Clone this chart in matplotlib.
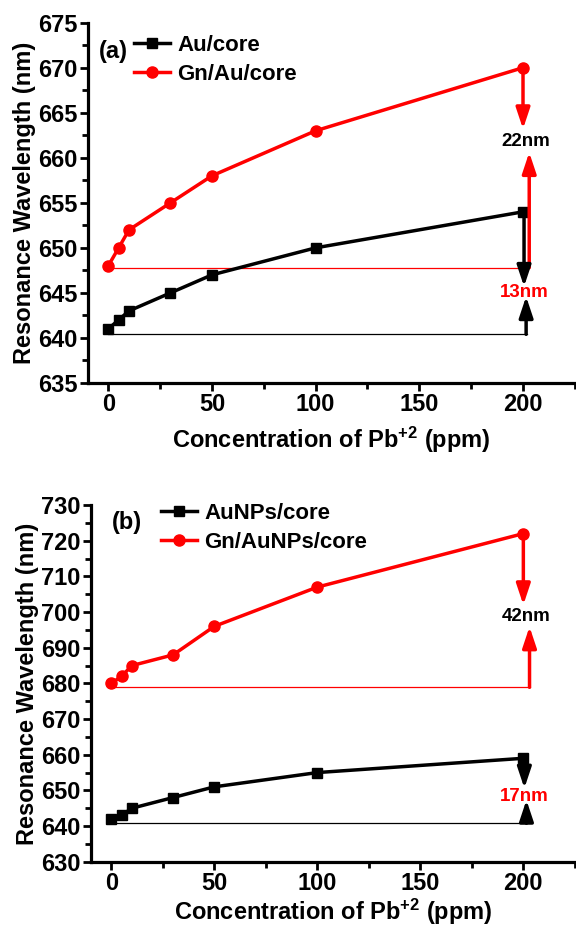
import matplotlib
matplotlib.use("Agg")
import matplotlib.pyplot as plt
from matplotlib.ticker import MultipleLocator

plt.rcParams['font.family'] = ['Liberation Sans', 'DejaVu Sans']
plt.rcParams['font.weight'] = 'bold'
plt.rcParams['mathtext.fontset'] = 'custom'
plt.rcParams['mathtext.rm'] = 'Liberation Sans:bold'
plt.rcParams['mathtext.bf'] = 'Liberation Sans:bold'
plt.rcParams['mathtext.it'] = 'Liberation Sans:bold'
plt.rcParams['mathtext.default'] = 'bf'

# ---- data ----
conc = [0, 5, 10, 30, 50, 100, 200]
a_au = [641, 642, 643, 645, 647, 650, 654]
a_gn = [648, 650, 652, 655, 658, 663, 670]
b_au = [642, 643, 645, 648, 651, 655, 659]
b_gn = [680, 682, 685, 688, 696, 707, 722]

labels_a = ["Au/core", "Gn/Au/core"]
labels_b = ["AuNPs/core", "Gn/AuNPs/core"]
shift_a = ["22nm", "13nm"]
shift_b = ["42nm", "17nm"]

# reference (baseline) levels and arrow end points
a_red_base, a_red_down_tip, a_red_up_tip, a_red_text = 647.8, 663.2, 660.6, 661.8
a_blk_base, a_blk_down_tip, a_blk_up_tip, a_blk_text = 640.4, 645.7, 644.6, 645.0
b_red_base, b_red_down_tip, b_red_up_tip, b_red_text = 678.9, 702.0, 695.9, 698.8
b_blk_base, b_blk_down_tip, b_blk_up_tip, b_blk_text = 640.8, 650.6, 647.3, 648.4

fig = plt.figure(figsize=(5.76, 9.25), dpi=100)
ax1 = fig.add_axes([0.152, 0.586, 0.846, 0.3895])
ax2 = fig.add_axes([0.1575, 0.0684, 0.8405, 0.3856])

RED = '#ff0000'


def style(ax, ylim, ymaj, ymin, xpad):
    ax.set_xlim(-10, 225)
    ax.set_ylim(*ylim)
    ax.xaxis.set_major_locator(MultipleLocator(50))
    ax.xaxis.set_minor_locator(MultipleLocator(25))
    ax.yaxis.set_major_locator(MultipleLocator(ymaj))
    ax.yaxis.set_minor_locator(MultipleLocator(ymin))
    for s in ['top', 'right']:
        ax.spines[s].set_visible(False)
    for s in ['left', 'bottom']:
        ax.spines[s].set_linewidth(2.3)
    ax.tick_params(which='major', direction='out', length=6, width=2, labelsize=17, pad=1.5)
    ax.tick_params(which='minor', direction='out', length=4, width=2)
    for lab in ax.get_xticklabels() + ax.get_yticklabels():
        lab.set_fontweight('bold')
    ax.set_xlabel(r'Concentration of Pb$^{+2}$ (ppm)', fontsize=17, fontweight='bold', labelpad=xpad)
    ax.set_ylabel('Resonance Wavelength (nm)', fontsize=17, fontweight='bold', labelpad=1)


def arrow(ax, x0, y0, x1, y1, color):
    ax.annotate('', xy=(x1, y1), xytext=(x0, y0),
                arrowprops=dict(arrowstyle='-|>,head_length=0.9,head_width=0.3', lw=2.5,
                                color=color, shrinkA=0, shrinkB=0, mutation_scale=14))


def panel(ax, au, gn, labels, shifts, tag, ylim, ymaj, ymin,
          rb, rdt, rut, rt, bb, bdt, but, bt, leg_anchor, tag_pos, xpad):
    style(ax, ylim, ymaj, ymin, xpad)
    ax.plot(conc, au, color='black', lw=2.5, marker='s', ms=7.5, label=labels[0], zorder=3)
    ax.plot(conc, gn, color=RED, lw=2.5, marker='o', ms=8, label=labels[1], zorder=3)
    # baselines
    ax.plot([0, 203], [rb, rb], color=RED, lw=0.9, zorder=2)
    ax.plot([0, 202], [bb, bb], color='black', lw=0.9, zorder=2)
    # arrows red
    arrow(ax, 200, gn[-1], 200, rdt, RED)
    arrow(ax, 203, rb, 203, rut, RED)
    ax.text(201.5, rt, shifts[0], color='black', fontsize=13.5, fontweight='bold',
            ha='center', va='center')
    # arrows black
    arrow(ax, 200.5, au[-1], 200.5, bdt, 'black')
    arrow(ax, 201.5, bb, 201.5, but, 'black')
    ax.text(200.5, bt, shifts[1], color=RED, fontsize=13.5, fontweight='bold',
            ha='center', va='center')
    ax.legend(loc='upper left', bbox_to_anchor=leg_anchor, frameon=False,
              prop={'weight': 'bold', 'size': 16}, handlelength=1.6,
              handletextpad=0.35, labelspacing=0.36, borderaxespad=0)
    ax.text(tag_pos[0], tag_pos[1], tag, transform=ax.transAxes, fontsize=17,
            fontweight='bold', ha='left', va='center')


panel(ax1, a_au, a_gn, labels_a, shift_a, '(a)', (635, 675), 5, 2.5,
      a_red_base, a_red_down_tip, a_red_up_tip, a_red_text,
      a_blk_base, a_blk_down_tip, a_blk_up_tip, a_blk_text,
      (0.077, 0.99), (0.023, 0.919), 6)
panel(ax2, b_au, b_gn, labels_b, shift_b, '(b)', (630, 730), 10, 5,
      b_red_base, b_red_down_tip, b_red_up_tip, b_red_text,
      b_blk_base, b_blk_down_tip, b_blk_up_tip, b_blk_text,
      (0.127, 1.03), (0.043, 0.952), 1)

fig.savefig('out.png', dpi=100)
